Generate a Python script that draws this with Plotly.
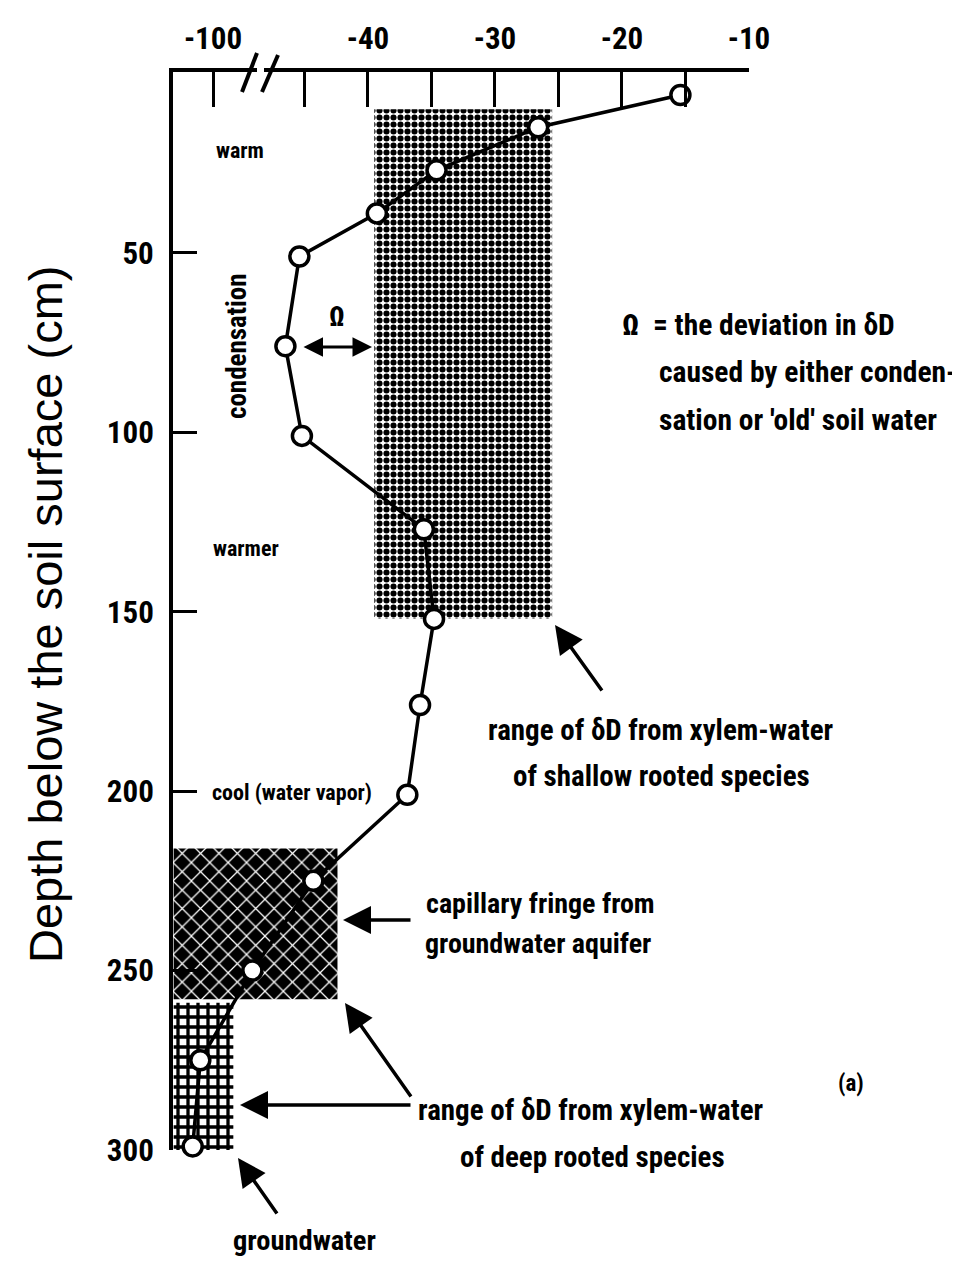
import plotly.graph_objects as go

# ---- data ----
depth_cm = [6, 15, 27, 39, 51, 76, 101, 127, 152, 176, 201, 225, 250, 275, 299]
delta_D = [-15.4, -26.6, -34.6, -39.3, -45.4, -46.5, -45.2, -35.6, -34.8, -35.9, -36.9, -44.3, -96.9, -101.0, -101.6]

major_ticks = [-100, -40, -30, -20, -10]
minor_ticks = [-45, -35, -25, -15]
y_ticks = [50, 100, 150, 200, 250, 300]

shallow_range = [-39.5, -25.5]      # deltaD of xylem water, shallow rooted species
shallow_depth = [10, 152]
capillary_range = [-103.1, -42.4]
capillary_depth = [216, 258]
ground_range = [-103.1, -98.4]
ground_depth = [259, 300]

# broken axis: values in the -100 region are shifted next to the main scale
BREAK_SHIFT = 47.8


def pos(v):
    return v + BREAK_SHIFT if v < -70 else v


FONT = "Roboto Condensed, Liberation Sans Narrow, Liberation Sans, Arial, sans-serif"

# plot area placement (page pixels; the page body adds an 8px offset)
PL, PT, PW, PH = 173, 72, 576, 1078
OFF = 8

fig = go.Figure()


def box(xr, yr, pattern):
    x0, x1 = pos(xr[0]), pos(xr[1])
    fig.add_trace(go.Scatter(
        x=[x0, x1, x1, x0, x0], y=[yr[0], yr[0], yr[1], yr[1], yr[0]],
        mode="lines", line=dict(width=0), fill="toself",
        fillpattern=pattern, hoverinfo="skip", showlegend=False))


box(shallow_range, shallow_depth,
    dict(shape=".", fgcolor="black", bgcolor="white", size=7, solidity=0.6, fillmode="replace"))
box(capillary_range, capillary_depth,
    dict(shape="x", fgcolor="white", bgcolor="black", size=13, solidity=0.18, fillmode="replace"))
box(ground_range, ground_depth,
    dict(shape="+", fgcolor="black", bgcolor="white", size=10, solidity=0.55, fillmode="replace"))

fig.add_trace(go.Scatter(
    x=[pos(v) for v in delta_D], y=depth_cm, mode="lines+markers",
    line=dict(color="black", width=3.5),
    marker=dict(symbol="circle", size=19, color="white", line=dict(color="black", width=3.5)),
    cliponaxis=False, showlegend=False))

xmin = -55.35
fig.update_xaxes(
    range=[xmin, -10], side="top", showgrid=False, zeroline=False,
    showline=True, linewidth=4, linecolor="black",
    ticks="inside", ticklen=35, tickwidth=3, tickcolor="black", ticklabelstandoff=7,
    tickvals=[pos(v) for v in major_ticks + minor_ticks],
    ticktext=[str(v) for v in major_ticks] + [""] * len(minor_ticks),
    tickfont=dict(family=FONT, size=31, color="black", weight=700))
fig.update_yaxes(
    range=[300, -0.4], showgrid=False, zeroline=False,
    showline=True, linewidth=4, linecolor="black",
    ticks="inside", ticklen=24, tickwidth=3, tickcolor="black", ticklabelstandoff=9,
    tickvals=y_ticks, ticktext=[str(v) for v in y_ticks],
    tickfont=dict(family=FONT, size=31, color="black", weight=700))


def px(x):
    return (x - PL) / PW


def py(y):
    return (PT + PH - y) / PH


# axis break marks
fig.add_shape(type="line", xref="paper", yref="paper", x0=px(257), x1=px(264), y0=py(71), y1=py(71),
              line=dict(color="white", width=7))
for (xa, ya, xb, yb) in ((242, 92, 257, 53), (262, 92, 278, 55)):
    fig.add_shape(type="line", xref="paper", yref="paper", x0=px(xa), y0=py(ya), x1=px(xb), y1=py(yb),
                  line=dict(color="black", width=4))


def txt(x, y, s, size=29, xanchor="center", angle=0, bold=True, family=FONT):
    fig.add_annotation(x=px(x), y=py(y), xref="paper", yref="paper",
                       text=("<b>%s</b>" % s) if bold else s,
                       showarrow=False, xanchor=xanchor, yanchor="middle", textangle=angle,
                       font=dict(family=family, size=size, color="black"))


txt(240, 150, "warm", size=22)
txt(237, 346, "condensation", size=27, angle=-90)
txt(246, 548, "warmer", size=22)
txt(292, 793, "cool (water vapor)", size=22)
txt(337, 317, "Ω", size=27)

txt(620, 325, "Ω  = the deviation in δD", xanchor="left", size=29.5)
txt(657, 372, "caused by either conden-", xanchor="left", size=29.5)
txt(657, 420, "sation or 'old' soil water", xanchor="left", size=29.5)

txt(661, 730, "range of δD from xylem-water")
txt(661, 776, "of shallow rooted species")
txt(424, 903, "capillary fringe from", xanchor="left", size=28)
txt(423, 943, "groundwater aquifer", xanchor="left", size=28)
txt(591, 1110, "range of δD from xylem-water")
txt(592, 1157, "of deep rooted species")
txt(304, 1240, "groundwater", size=28.5)
txt(851, 1083, "(a)", size=23)

# Omega double arrow
fig.add_annotation(x=px(372), y=py(347), xref="paper", yref="paper", ax=-70, ay=0,
                   text="", showarrow=True, arrowside="end+start", arrowhead=2,
                   arrowsize=1.3, arrowwidth=3, arrowcolor="black", standoff=0, startstandoff=0)


def arrow(x, y, xt, yt):
    fig.add_annotation(x=px(x), y=py(y), xref="paper", yref="paper", ax=xt - x, ay=yt - y,
                       text="", showarrow=True,
                       arrowhead=2, arrowsize=1.6, arrowwidth=3.5, arrowcolor="black")


arrow(555, 625, 603, 692)
arrow(343, 920, 412, 920)
arrow(345, 1003, 412, 1098)
arrow(240, 1105, 412, 1105)
arrow(238, 1158, 278, 1215)

# y axis title
txt(45, 615, "Depth below the soil surface (cm)", size=47, angle=-90, bold=False,
    family="Liberation Sans, Arial, sans-serif")

fig.update_layout(width=960, height=1261,
                  margin=dict(l=PL - OFF, r=960 - (PL - OFF) - PW, t=PT - OFF, b=1261 - (PT - OFF) - PH),
                  plot_bgcolor="white", paper_bgcolor="white", showlegend=False)

fig.write_html("out.html")
